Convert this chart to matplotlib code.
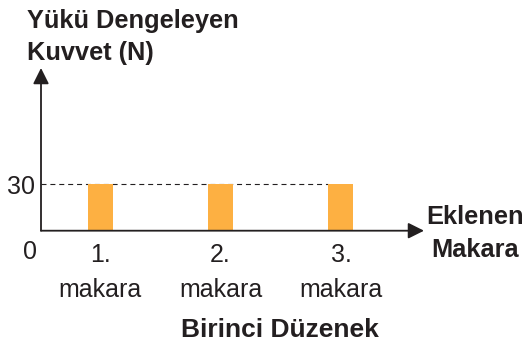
import matplotlib.pyplot as plt

plt.rcParams['font.family'] = ['Liberation Sans', 'DejaVu Sans']

# data
pulleys = [1, 2, 3]
pulley_labels = ["1.\nmakara", "2.\nmakara", "3.\nmakara"]
force = [30, 30, 30]
y_ticks = [30]

ink = "#231f20"
bar_color = "#fdb042"
W, H = 527, 341

fig = plt.figure(figsize=(W / 100, H / 100), dpi=100)
ax = fig.add_axes([41 / W, (H - 230.7) / H, (424 - 41) / W, (230.7 - 68) / H])

x_left = 1 - 59 / 120.5
ax.set_xlim(x_left, 1 + 324 / 120.5)
ax.set_ylim(0, 105)

bar_w = 25 / 120.5
ax.bar(pulleys, force, width=bar_w, color=bar_color, zorder=2)

# dashed guide at the bar height
ax.hlines(force[-1], x_left, pulleys[-1] - bar_w / 2, colors=ink,
          linewidth=0.8, linestyles=(0, (4.5, 3.5)), zorder=1)

for s in ax.spines.values():
    s.set_visible(False)

# axes drawn as arrows
arrow = dict(arrowstyle='-|>', color=ink, lw=1.3, mutation_scale=24,
             shrinkA=0, shrinkB=0)
ax.annotate("", xy=(1, 0), xytext=(0, 0), xycoords='axes fraction',
            arrowprops=arrow, annotation_clip=False)
ax.annotate("", xy=(0, 1), xytext=(0, 0), xycoords='axes fraction',
            arrowprops=arrow, annotation_clip=False)

ax.set_yticks(y_ticks)
ax.set_yticklabels([str(v) for v in y_ticks], family='Liberation Sans')
ax.tick_params(axis='y', length=0, pad=4, labelsize=18, labelcolor=ink)

ax.set_xticks(pulleys)
ax.set_xticklabels(pulley_labels, linespacing=1.55, family='Liberation Sans')
ax.tick_params(axis='x', length=0, pad=9, labelsize=18, labelcolor=ink)


def ftext(x, y, s, size=18, **kw):
    fig.text(x / W, 1 - y / H, s, fontsize=size, color=ink, va='baseline',
             family='Liberation Sans', **kw)


ftext(29.5, 259, "0", ha='center')
ftext(27, 28, "Yükü Dengeleyen", fontweight='bold', size=18.3)
ftext(27, 60, "Kuvvet (N)", fontweight='bold', size=18.3)
ftext(475, 224, "Eklenen", fontweight='bold', ha='center', size=18.3)
ftext(475, 257, "Makara", fontweight='bold', ha='center', size=18.3)
ftext(280, 337, "Birinci Düzenek", fontweight='bold', ha='center', size=19)

fig.savefig("out.png", dpi=100)
